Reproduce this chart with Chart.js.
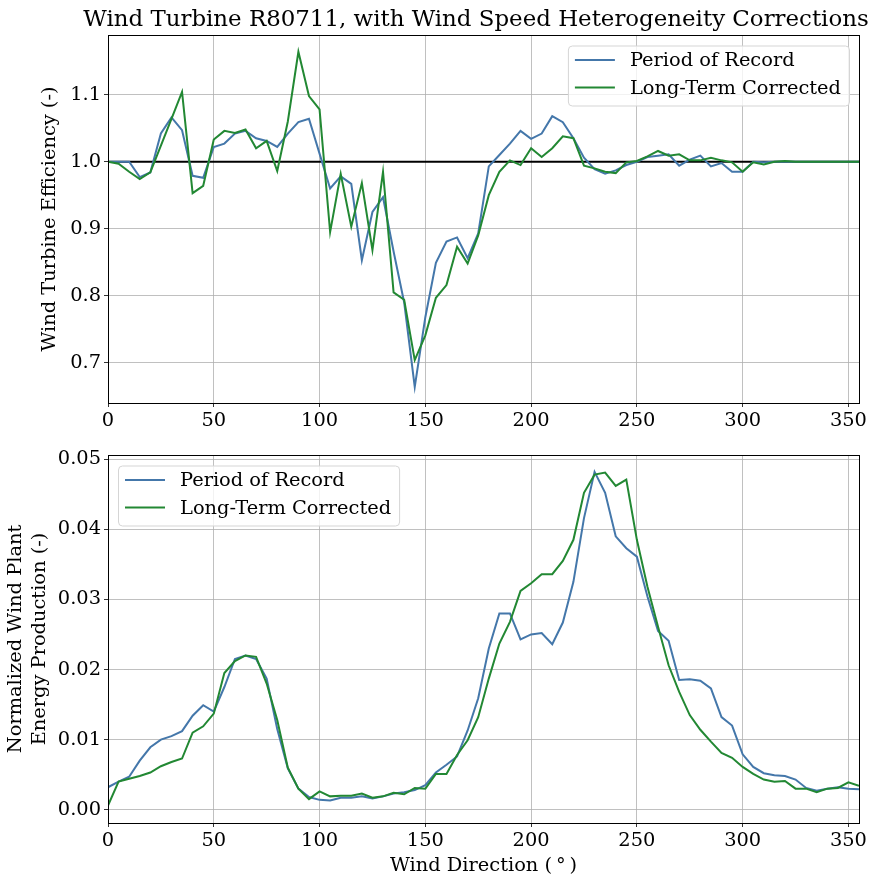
<!DOCTYPE html>
<html>
<head>
<meta charset="utf-8">
<script src="https://cdn.jsdelivr.net/npm/chart.js@4"></script>
<style>
  body { margin: 0; background: #fff; }
  #wrap { position: relative; width: 893px; height: 888px; }
  canvas { position: absolute; left: 0; }
  #effCanvas { top: 0; }
  #energyCanvas { top: 440px; }
</style>
</head>
<body>
<div id="wrap">
  <canvas id="effCanvas" width="893" height="440"></canvas>
  <canvas id="energyCanvas" width="893" height="448"></canvas>
</div>
<script>
const chartTitle = "Wind Turbine R80711, with Wind Speed Heterogeneity Corrections";
const seriesNames = ["Period of Record", "Long-Term Corrected"];

const directions = [0, 5, 10, 15, 20, 25, 30, 35, 40, 45, 50, 55, 60, 65, 70, 75, 80, 85, 90, 95,
    100, 105, 110, 115, 120, 125, 130, 135, 140, 145, 150, 155, 160, 165, 170, 175, 180, 185, 190, 195,
    200, 205, 210, 215, 220, 225, 230, 235, 240, 245, 250, 255, 260, 265, 270, 275, 280, 285, 290, 295,
    300, 305, 310, 315, 320, 325, 330, 335, 340, 345, 350, 355];

const xTicks = [0, 50, 100, 150, 200, 250, 300, 350];
const effTicks = [0.7, 0.8, 0.9, 1.0, 1.1];
const energyTicks = [0.00, 0.01, 0.02, 0.03, 0.04, 0.05];

// turbine efficiency, top panel
const effRecord = [1.000, 1.000, 1.000, 0.977, 0.984, 1.042, 1.066, 1.047, 0.979, 0.976,
    1.022, 1.027, 1.042, 1.046, 1.035, 1.031, 1.022, 1.042, 1.059, 1.064,
    1.012, 0.960, 0.978, 0.967, 0.853, 0.925, 0.947, 0.866, 0.790, 0.664,
    0.768, 0.849, 0.881, 0.887, 0.856, 0.893, 0.993, 1.010, 1.027, 1.046,
    1.034, 1.042, 1.068, 1.059, 1.035, 1.006, 0.989, 0.982, 0.987, 0.995,
    1.000, 1.007, 1.009, 1.011, 0.994, 1.003, 1.009, 0.993, 0.998, 0.985,
    0.985, 1.000, 0.999, 1.000, 1.000, 1.000, 1.000, 1.000, 1.000, 1.000, 1.000, 1.000];

const effCorrected = [1.000, 0.997, 0.985, 0.974, 0.984, 1.024, 1.064, 1.104, 0.953, 0.964,
    1.033, 1.046, 1.043, 1.048, 1.020, 1.031, 0.986, 1.060, 1.164, 1.098,
    1.078, 0.895, 0.982, 0.903, 0.968, 0.868, 0.985, 0.805, 0.794, 0.704,
    0.741, 0.797, 0.816, 0.873, 0.848, 0.890, 0.950, 0.985, 1.002, 0.995,
    1.020, 1.007, 1.020, 1.038, 1.035, 0.994, 0.990, 0.985, 0.983, 0.999,
    1.001, 1.008, 1.016, 1.009, 1.011, 1.002, 1.002, 1.006, 1.002, 0.999,
    0.985, 0.999, 0.996, 1.000, 1.001, 1.000, 1.000, 1.000, 1.000, 1.000, 1.000, 1.000];

// normalized energy production, bottom panel
const energyRecord = [0.0032, 0.0040, 0.0047, 0.0070, 0.0089, 0.0100, 0.0105, 0.0112, 0.0134, 0.0149,
    0.0140, 0.0175, 0.0215, 0.0220, 0.0215, 0.0187, 0.0115, 0.0059, 0.0030, 0.0018,
    0.0014, 0.0013, 0.0017, 0.0017, 0.0019, 0.0016, 0.0019, 0.0023, 0.0025, 0.0028,
    0.0035, 0.0053, 0.0064, 0.0076, 0.0113, 0.0159, 0.0230, 0.0280, 0.0280, 0.0243,
    0.0250, 0.0252, 0.0236, 0.0267, 0.0325, 0.0416, 0.0482, 0.0452, 0.0390, 0.0373,
    0.0361, 0.0304, 0.0255, 0.0241, 0.0185, 0.0186, 0.0184, 0.0173, 0.0132, 0.0120,
    0.0079, 0.0061, 0.0052, 0.0049, 0.0048, 0.0043, 0.0031, 0.0027, 0.0030, 0.0032, 0.0030, 0.0029];

const energyCorrected = [0.0006, 0.0040, 0.0044, 0.0048, 0.0053, 0.0062, 0.0068, 0.0073, 0.0110, 0.0119,
    0.0137, 0.0195, 0.0212, 0.0220, 0.0218, 0.0180, 0.0128, 0.0060, 0.0030, 0.0015,
    0.0026, 0.0019, 0.0020, 0.0020, 0.0023, 0.0017, 0.0019, 0.0024, 0.0022, 0.0031,
    0.0030, 0.0051, 0.0051, 0.0078, 0.0099, 0.0132, 0.0187, 0.0237, 0.0268, 0.0312,
    0.0323, 0.0336, 0.0336, 0.0355, 0.0385, 0.0452, 0.0478, 0.0481, 0.0462, 0.0471,
    0.0385, 0.0318, 0.0261, 0.0206, 0.0168, 0.0135, 0.0114, 0.0097, 0.0081, 0.0074,
    0.0061, 0.0051, 0.0043, 0.0040, 0.0041, 0.0030, 0.0030, 0.0025, 0.0030, 0.0031, 0.0039, 0.0034];

const BLUE = "#4477AA";
const GREEN = "#228833";
const GRID = "#b0b0b0";
const SERIF = "'DejaVu Serif', 'Liberation Serif', serif";
const TICK_SIZE = 19.4;
const LABEL_SIZE = 19.4;
const LEGEND_SIZE = 19.4;
const TITLE_SIZE = 22.9;

Chart.defaults.font.family = SERIF;
Chart.defaults.color = "#000";

const points = (ys) => directions.map((d, i) => ({ x: d, y: ys[i] }));

function lineSet(label, color, ys, order) {
    return {
        label,
        data: points(ys),
        borderColor: color,
        backgroundColor: color,
        borderWidth: 2,
        pointRadius: 0,
        tension: 0,
        order
    };
}

// full box around the plot area, like matplotlib spines
const frame = {
    id: "frame",
    afterDraw(chart) {
        const { ctx, chartArea: a } = chart;
        ctx.save();
        ctx.strokeStyle = "#000";
        ctx.lineWidth = 1;
        ctx.strokeRect(Math.round(a.left) + 0.5, Math.round(a.top) + 0.5,
            Math.round(a.right - a.left), Math.round(a.bottom - a.top));
        ctx.restore();
    }
};

// legend drawn inside the axes
const insetLegend = {
    id: "insetLegend",
    afterDraw(chart, args, opts) {
        const { ctx, chartArea: a } = chart;
        const items = chart.data.datasets.filter((d) => d.label);
        ctx.save();
        ctx.font = `${LEGEND_SIZE}px ${SERIF}`;
        const textW = Math.max(...items.map((d) => ctx.measureText(d.label).width));
        const w = 62 + textW + 8;
        const h = 60;
        const x = opts.corner === "right" ? a.right - 10 - w : a.left + 10;
        const y = a.top + 10.5;
        ctx.beginPath();
        ctx.roundRect(x + 0.5, y + 0.5, w, h, 4);
        ctx.fillStyle = "rgba(255,255,255,0.8)";
        ctx.fill();
        ctx.strokeStyle = "#d5d5d5";
        ctx.lineWidth = 1;
        ctx.stroke();
        items.forEach((d, i) => {
            const cy = y + 14.5 + i * 27.5;
            ctx.strokeStyle = d.borderColor;
            ctx.lineWidth = 2;
            ctx.beginPath();
            ctx.moveTo(x + 7, cy);
            ctx.lineTo(x + 47, cy);
            ctx.stroke();
            ctx.fillStyle = "#000";
            ctx.textBaseline = "middle";
            ctx.textAlign = "left";
            ctx.fillText(d.label, x + 62, cy + 1);
        });
        ctx.restore();
    }
};

const figTitle = {
    id: "figTitle",
    afterDraw(chart, args, opts) {
        if (!opts.text) return;
        const { ctx } = chart;
        ctx.save();
        ctx.font = `${opts.size}px ${SERIF}`;
        ctx.fillStyle = "#000";
        ctx.textAlign = "center";
        ctx.textBaseline = "middle";
        ctx.fillText(opts.text, opts.x, opts.y);
        ctx.restore();
    }
};

function xScale(height, title) {
    return {
        type: "linear",
        min: 0,
        max: 355,
        afterBuildTicks: (s) => { s.ticks = xTicks.map((v) => ({ value: v })); },
        afterFit: (s) => { s.height = height; },
        grid: { color: GRID, lineWidth: 0.8, tickColor: "#000", tickLength: 4, drawTicks: true },
        border: { color: "#000", width: 1 },
        ticks: { font: { size: TICK_SIZE }, padding: 2, maxRotation: 0, autoSkip: false, callback: (v) => String(v) },
        title: title ? { display: true, text: title, font: { size: LABEL_SIZE, lineHeight: 1.2 }, padding: { top: 0, bottom: 10 } }
                     : { display: false }
    };
}

function yScale(min, max, tickList, digits, width, title, lineHeight) {
    return {
        type: "linear",
        min,
        max,
        afterBuildTicks: (s) => { s.ticks = tickList.map((v) => ({ value: v })); },
        afterFit: (s) => { s.width = width; },
        grid: { color: GRID, lineWidth: 0.8, tickColor: "#000", tickLength: 4, drawTicks: true },
        border: { color: "#000", width: 1 },
        ticks: { font: { size: TICK_SIZE }, padding: 3, autoSkip: false, callback: (v) => Number(v).toFixed(digits) },
        title: { display: true, text: title, font: { size: LABEL_SIZE, lineHeight }, padding: { top: 0, bottom: 0 } }
    };
}

function baseOptions(padding) {
    return {
        responsive: false,
        animation: false,
        events: [],
        layout: { padding },
        plugins: { legend: { display: false }, tooltip: { enabled: false } }
    };
}

const effOptions = baseOptions({ top: 35, left: 38, right: 34, bottom: 0 });
effOptions.scales = {
    x: xScale(37, null),
    y: yScale(0.640, 1.189, effTicks, 1, 70, "Wind Turbine Efficiency (-)", 1.2)
};
effOptions.plugins.insetLegend = { corner: "right" };
effOptions.plugins.figTitle = { text: chartTitle, x: 476, y: 20, size: TITLE_SIZE };

new Chart(document.getElementById("effCanvas"), {
    type: "line",
    data: {
        datasets: [
            lineSet(seriesNames[0], BLUE, effRecord, 2),
            lineSet(seriesNames[1], GREEN, effCorrected, 1),
            {
                data: [{ x: 0, y: 1 }, { x: 355, y: 1 }],
                borderColor: "#000",
                borderWidth: 2,
                pointRadius: 0,
                order: 3
            }
        ]
    },
    options: effOptions,
    plugins: [frame, insetLegend, figTitle]
});

const energyOptions = baseOptions({ top: 15, left: 4, right: 34, bottom: 0 });
energyOptions.scales = {
    x: xScale(65, "Wind Direction (\u2009°\u2009)"),
    y: yScale(-0.0019, 0.0506, energyTicks, 2, 104, ["Normalized Wind Plant", "Energy Production (-)"], 1.24)
};
energyOptions.plugins.insetLegend = { corner: "left" };

new Chart(document.getElementById("energyCanvas"), {
    type: "line",
    data: {
        datasets: [
            lineSet(seriesNames[0], BLUE, energyRecord, 2),
            lineSet(seriesNames[1], GREEN, energyCorrected, 1)
        ]
    },
    options: energyOptions,
    plugins: [frame, insetLegend, figTitle]
});
</script>
</body>
</html>
